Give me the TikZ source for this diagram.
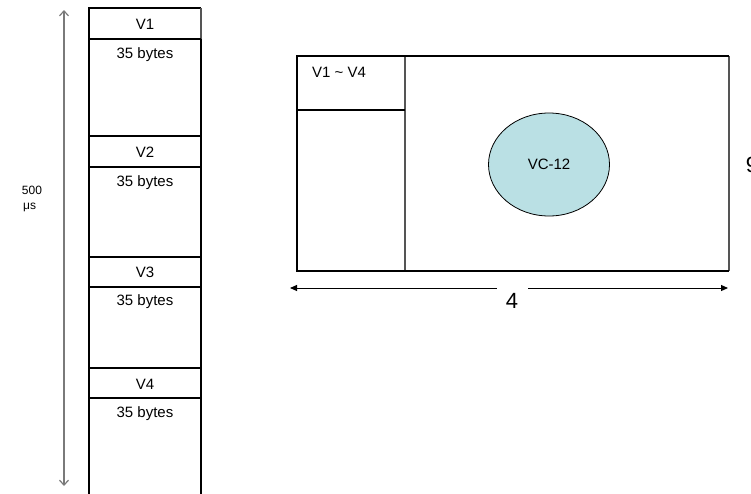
\documentclass[tikz,border=0pt]{standalone}
\usepackage{fontspec}
\setmainfont{Liberation Sans}
\usetikzlibrary{arrows.meta,shapes.geometric}
\definecolor{vcfill}{HTML}{BAE0E4}
\definecolor{edgegray}{HTML}{555555}
\definecolor{dimgray}{HTML}{7A7A7A}
\begin{document}
\begin{tikzpicture}[x=1pt,y=-1pt,
  heavy/.style={line width=2.8pt,black},
  sep/.style={line width=1.4pt,black},
  softedge/.style={line width=2pt,edgegray},
  lbl/.style={inner sep=0pt,font=\fontsize{15}{18}\selectfont},
  small/.style={inner sep=0pt,font=\fontsize{12}{14}\selectfont},
  big/.style={inner sep=0pt,font=\fontsize{22}{26}\selectfont},
  timeline/.style={line width=1.2pt,dimgray,
    {Straight Barb[length=5pt,width=9pt]}-{Straight Barb[length=5pt,width=9pt]}},
  widthline/.style={line width=1pt,black},
  wtip/.style={Triangle[length=7pt,width=6pt]}]
\clip (0,0) rectangle (751,493);

% ---- frame column: four V-slots, each followed by 35 bytes ----
\coordinate (cTL) at (89,8);
\coordinate (cTR) at (201,8);
\coordinate (cBL) at (89,500);
\coordinate (cBR) at (201,500);
\draw[heavy] (cBL) -- (cTL) -- (cTR);
\draw[softedge] (cTR) -- (201,39);
\draw[heavy] (201,39) -- (cBR);
\foreach \yy in {39,136,167,257,287,368,398}
  \draw[sep] (89,\yy) -- (201,\yy);

\node[lbl] (v1) at (145,24) {V1};
\node[lbl] (b1) at (145,55) {35 bytes};
\node[lbl] (v2) at (145,152) {V2};
\node[lbl] (b2) at (145,183) {35 bytes};
\node[lbl] (v3) at (145,272) {V3};
\node[lbl] (b3) at (145,302) {35 bytes};
\node[lbl] (v4) at (145,384) {V4};
\node[lbl] (b4) at (145,414) {35 bytes};

% ---- 500 us time span ----
\coordinate (tTop) at (64,10);
\coordinate (tBot) at (64,486);
\draw[timeline] (tTop) -- (tBot);
\node[small] (t500) at (32,190) {500};
\node[small,anchor=west] (tus) at (23,207) {μs};

% ---- 9 x 4 structure ----
\coordinate (rTL) at (297,56);
\coordinate (rTR) at (729,56);
\coordinate (rBL) at (297,271);
\coordinate (rBR) at (729,271);
\coordinate (dTop) at (405,56);
\coordinate (dBot) at (405,271);
\coordinate (hL) at (297,110);
\coordinate (hR) at (405,110);
\draw[softedge] (rTR) -- (rBR);
\draw[softedge,line width=1.6pt] (dTop) -- (dBot);
\draw[sep] (hL) -- (hR);
\draw[heavy] (rTR) -- (rTL) -- (rBL) -- (rBR);

\node[lbl,anchor=west] (vpoh) at (312,72) {V1 \textasciitilde\ V4};
\node[ellipse,draw=black,line width=0.8pt,fill=vcfill,
      minimum width=121pt,minimum height=103pt,
      font=\fontsize{15}{18}\selectfont] (vc) at (549,164.5) {VC-12};

% ---- width dimension ----
\coordinate (wL) at (290,288);
\coordinate (gL) at (497,288);
\coordinate (gR) at (528,288);
\coordinate (wR) at (728,288);
\draw[widthline,{Triangle[length=7pt,width=6pt]}-] (wL) -- (gL);
\draw[widthline,-{Triangle[length=7pt,width=6pt]}] (gR) -- (wR);
\node[big] (four) at (512,301) {4};
\node[big] (nine) at (752,165) {9};
\end{tikzpicture}
\end{document}
